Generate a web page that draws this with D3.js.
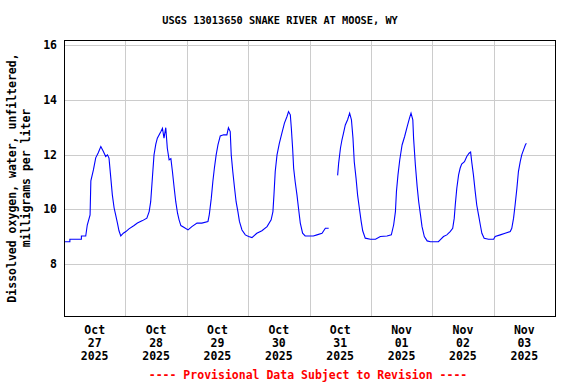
<!DOCTYPE html>
<html>
<head>
    <script src="https://d3js.org/d3.v7.min.js"></script>
    <style>
        body { margin: 0; background: white; }
        svg text { font-family: "DejaVu Sans Mono", monospace; font-weight: bold; }
    </style>
</head>
<body>
    <svg id="chart" width="576" height="384"></svg>
    <script>
        // hours since 2025-10-27 00:00 (local), and dissolved oxygen mg/L (null = gap in record)
        const hours = [0, 2.3, 2.3, 6.8, 6.8, 8.5, 9.1, 10.2, 10.5, 11.5, 12.4, 13.4, 14.4, 15.4, 16.3, 17.0, 17.6,
            18.3, 18.9, 19.6, 20.2, 20.9, 21.5, 22.2, 23.2, 24.2, 25.4, 27.4, 28.7, 30.7, 32.4, 33.3, 33.9,
            34.6, 35.2, 35.9, 36.5, 37.9, 38.5, 39.1, 39.8, 40.4, 41.1, 41.8, 42.4, 43.1, 43.7, 44.4, 45.0,
            45.7, 47.0, 48.5, 50.0, 52.0, 53.9, 56.3, 56.8, 57.6, 58.2, 58.8, 59.5, 60.2, 61.1, 62.4, 63.7,
            64.3, 65.0, 65.4, 66.0, 66.7, 67.3, 68.0, 68.6, 69.6, 70.9, 72.2, 73.5, 75.4, 77.4, 79.4, 81.0,
            81.7, 82.1, 82.6, 83.3, 84.2, 85.2, 86.2, 87.2, 87.8, 88.5, 88.9, 89.4, 89.8, 90.4, 91.1, 91.7,
            92.4, 93.3, 94.3, 97.5, 98.9, 100.9, 102.2, 103.5, 105.0,
            107.0, 107.4, 108.1, 108.7, 109.3, 110.0, 110.9, 111.7, 112.4, 113.0, 113.5, 114.2, 114.8, 115.5,
            116.2, 116.8, 117.8, 119.8, 121.8, 123.7, 126.3, 128.0, 128.9, 129.6, 130.0, 130.6, 131.3, 132.2,
            133.2, 134.2, 135.1, 135.7, 136.4, 136.7, 137.4, 138.1, 138.7, 139.4, 140.0, 140.9, 142.0, 143.3,
            146.4, 147.1, 148.4, 149.7, 151.0, 152.0, 152.6, 153.0, 153.6, 154.3, 154.9, 155.5, 156.6, 157.5,
            158.4, 159.0, 159.5, 160.1, 160.8, 161.4, 162.1, 162.8, 163.4, 164.3, 166.0, 168.0, 168.6, 170.6,
            172.5, 174.5, 175.1, 175.8, 176.4, 177.1, 177.7, 178.4, 179.0, 179.7, 180.4, 180.8];
        const oxygen = [8.82, 8.82, 8.91, 8.91, 9.03, 9.03, 9.43, 9.8, 11.04, 11.44, 11.88, 12.07, 12.29, 12.11, 11.93, 11.99, 11.87,
            11.15, 10.53, 10.05, 9.8, 9.5, 9.22, 9.03, 9.13, 9.19, 9.29, 9.41, 9.5, 9.59, 9.68, 9.92, 10.28,
            11.2, 11.99, 12.38, 12.6, 12.84, 12.96, 12.6, 12.98, 12.23, 11.81, 11.85, 11.38, 10.77, 10.28, 9.86, 9.62,
            9.41, 9.34, 9.25, 9.37, 9.5, 9.5, 9.56, 9.8, 10.41, 11.01, 11.5, 11.99, 12.35, 12.68, 12.72, 12.72,
            12.98, 12.84, 11.99, 11.38, 10.77, 10.28, 9.92, 9.56, 9.25, 9.07, 9.01, 8.97, 9.13, 9.22, 9.37, 9.62,
            9.92, 10.53, 11.38, 11.99, 12.41, 12.78, 13.15, 13.39, 13.57, 13.45, 12.96, 12.23, 11.5, 11.01, 10.53, 10.04,
            9.5, 9.13, 9.03, 9.03, 9.07, 9.13, 9.31, 9.31, null,
            11.24, 11.69, 12.23, 12.54, 12.78, 13.08, 13.27, 13.51, 13.27, 12.6, 11.74, 11.14, 10.53, 10.04,
            9.56, 9.22, 8.95, 8.91, 8.91, 9.01, 9.03, 9.07, 9.43, 9.92, 10.65, 11.26, 11.81, 12.35,
            12.66, 13.02, 13.33, 13.51, 13.27, 12.6, 11.62, 10.83, 10.28, 9.8, 9.37, 9.01, 8.85, 8.82,
            8.82, 8.89, 9.01, 9.07, 9.19, 9.31, 9.68, 10.16, 10.77, 11.26, 11.5, 11.65, 11.74, 11.93,
            12.05, 12.09, 11.69, 11.26, 10.65, 10.16, 9.8, 9.43, 9.13, 8.95, 8.91, 8.91, 9.01, 9.07,
            9.13, 9.19, 9.31, 9.68, 10.16, 10.77, 11.38, 11.74, 11.99, 12.17, 12.35, 12.41];

        const yTicks = [8, 10, 12, 14, 16];
        const tickDays = ["2025-10-27", "2025-10-28", "2025-10-29", "2025-10-30", "2025-10-31", "2025-11-01", "2025-11-02", "2025-11-03"];

        const svg = d3.select("#chart");
        const margin = { left: 64, right: 21, top: 40, bottom: 68 };
        const width = 576 - margin.left - margin.right;
        const height = 384 - margin.top - margin.bottom;

        const parseDay = d3.timeParse("%Y-%m-%d");
        const start = parseDay("2025-10-27");
        const end = parseDay("2025-11-04");

        const data = hours.map((h, i) => ({ date: d3.timeMinute.offset(start, Math.round(h * 60)), value: oxygen[i] }));

        const x = d3.scaleTime().domain([start, end]).range([margin.left, margin.left + width]);
        const y = d3.scaleLinear().domain([6.11, 16.18]).range([margin.top + height, margin.top]);

        // grid lines
        const grid = svg.append("g").attr("stroke", "#cccccc").attr("stroke-width", 1).attr("shape-rendering", "crispEdges");
        grid.selectAll(".vg")
            .data(d3.timeDay.range(d3.timeDay.offset(start, 1), end))
            .enter().append("line")
            .attr("x1", d => Math.round(x(d)) + 0.5).attr("x2", d => Math.round(x(d)) + 0.5)
            .attr("y1", margin.top).attr("y2", margin.top + height);
        grid.selectAll(".hg")
            .data(yTicks)
            .enter().append("line")
            .attr("x1", margin.left).attr("x2", margin.left + width)
            .attr("y1", d => Math.round(y(d)) + 0.5).attr("y2", d => Math.round(y(d)) + 0.5);

        // data line
        const line = d3.line()
            .defined(d => d.value !== null)
            .x(d => x(d.date))
            .y(d => y(d.value));

        svg.append("path")
            .datum(data)
            .attr("fill", "none")
            .attr("stroke", "#0000ff")
            .attr("stroke-width", 1.1)
            .attr("d", line);

        // frame
        svg.append("rect")
            .attr("x", margin.left + 0.5).attr("y", margin.top + 0.5)
            .attr("width", width).attr("height", height)
            .attr("fill", "none").attr("stroke", "black").attr("stroke-width", 1.3)
            .attr("shape-rendering", "crispEdges");

        // y axis labels
        svg.append("g").selectAll("text")
            .data(yTicks)
            .enter().append("text")
            .attr("x", 57).attr("y", d => y(d))
            .attr("dy", "0.35em")
            .attr("text-anchor", "end")
            .style("font-size", "11.5px")
            .text(d => d);

        // x axis labels, centred at noon of each day
        const fmtMon = d3.timeFormat("%b"), fmtDay = d3.timeFormat("%d"), fmtYear = d3.timeFormat("%Y");
        const xl = svg.append("g").selectAll("text")
            .data(tickDays.map(parseDay))
            .enter().append("text")
            .attr("text-anchor", "middle")
            .style("font-size", "11.5px");
        xl.append("tspan").attr("x", d => x(d3.timeHour.offset(d, 12))).attr("y", 334).text(d => fmtMon(d));
        xl.append("tspan").attr("x", d => x(d3.timeHour.offset(d, 12))).attr("y", 347).text(d => fmtDay(d));
        xl.append("tspan").attr("x", d => x(d3.timeHour.offset(d, 12))).attr("y", 360).text(d => fmtYear(d));

        // title
        svg.append("text")
            .attr("x", 280).attr("y", 24)
            .attr("text-anchor", "middle")
            .style("font-size", "10.3px")
            .text("USGS 13013650 SNAKE RIVER AT MOOSE, WY");

        // y axis title
        const yt = svg.append("text")
            .attr("transform", `translate(0,${margin.top + height / 2}) rotate(-90)`)
            .attr("text-anchor", "middle")
            .style("font-size", "11.5px");
        yt.append("tspan").attr("x", 0).attr("y", 16).text("Dissolved oxygen, water, unfiltered,");
        yt.append("tspan").attr("x", 0).attr("y", 30).text("milligrams per liter");

        // footer
        svg.append("text")
            .attr("x", 308).attr("y", 379)
            .attr("text-anchor", "middle")
            .attr("fill", "#ff0000")
            .style("font-size", "11.5px")
            .text("---- Provisional Data Subject to Revision ----");
    </script>
</body>
</html>
